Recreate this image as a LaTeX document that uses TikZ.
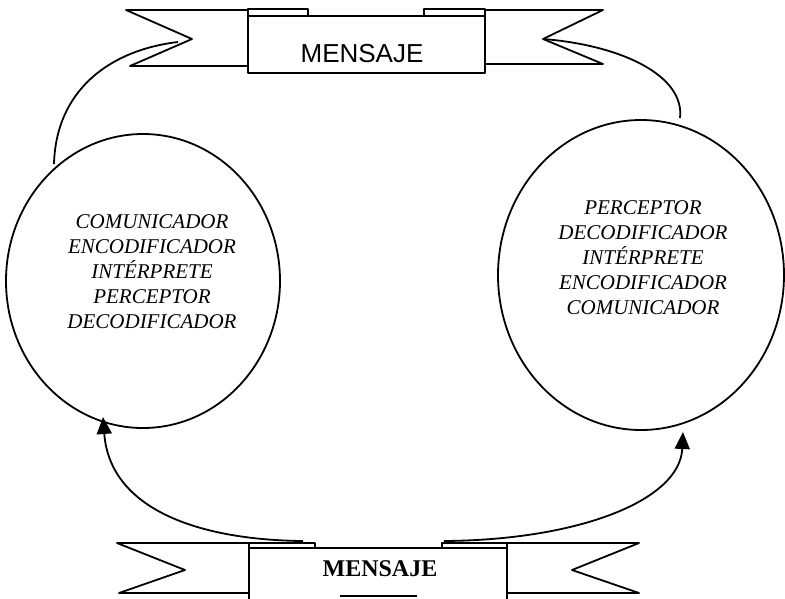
\documentclass[tikz,border=0pt]{standalone}
\usepackage{fontspec}
\setmainfont{Liberation Serif}
\newfontfamily\bannersans{Liberation Sans}
\usetikzlibrary{shapes.geometric,arrows.meta}
\tikzset{
  ln/.style={line width=1.8pt, line join=round},
  circ/.style={ellipse, draw, line width=1.8pt, inner sep=0pt},
  roles/.style={align=center, font=\fontsize{21}{25}\selectfont\itshape, inner sep=0pt},
  boxfill/.style={ln, fill=white},
  conn/.style={line width=1.8pt},
  arr/.style={line width=1.8pt, -{Triangle[length=17pt,width=15pt]}},
}
\begin{document}
\begin{tikzpicture}[x=1pt,y=-1pt]
\useasboundingbox (0,0) rectangle (785,598);
% circles
\node[circ, minimum width=274pt, minimum height=294pt] (lc) at (143,281) {};
\node[circ, minimum width=286pt, minimum height=310pt] (rc) at (641,275) {};
\node[roles] (lct) at (152,272) {COMUNICADOR\\ENCODIFICADOR\\INTÉRPRETE\\PERCEPTOR\\DECODIFICADOR};
\node[roles] (rct) at (643,258) {PERCEPTOR\\DECODIFICADOR\\INTÉRPRETE\\ENCODIFICADOR\\COMUNICADOR};
% top banner
\draw[ln, fill=white] (248,10) -- (126,10) -- (192,39) -- (130,66) -- (248,66);
\draw[ln, fill=white] (485,10) -- (603,10) -- (543,39) -- (603,64) -- (485,64);
\draw[ln, fill=white] (248,16) -- (248,9) -- (308,9) -- (308,16);
\draw[ln, fill=white] (424,16) -- (424,9) -- (485,9) -- (485,16);
\draw[boxfill] (248,16) rectangle (485,73);
\node[font=\bannersans\fontsize{26}{26}\selectfont, inner sep=0pt] (tm) at (362,54) {MENSAJE};
% bottom banner
\draw[ln, fill=white] (249,543) -- (117,543) -- (185,570) -- (119,593) -- (249,593);
\draw[ln, fill=white] (507,543) -- (639,543) -- (572,570) -- (639,593) -- (507,593);
\draw[ln, fill=white] (249,548) -- (249,543) -- (315,543) -- (315,548);
\draw[ln, fill=white] (442,548) -- (442,543) -- (507,543) -- (507,548);
\draw[boxfill] (249,600) -- (249,548) -- (507,548) -- (507,600);
\node[font=\fontsize{24}{24}\selectfont\bfseries, inner sep=0pt] (bm) at (380,569) {MENSAJE};
\coordinate (ula) at (340,596);
\coordinate (ulb) at (417,596);
\draw[ln] (ula) -- (ulb);
% connector endpoints
\coordinate (tl0) at (54,164);
\coordinate (tl1) at (178,42);
\coordinate (tr0) at (543,39);
\coordinate (tr1) at (680,118);
\coordinate (bl0) at (303,541);
\coordinate (bl1) at (103,417);
\coordinate (br0) at (444,541);
\coordinate (br1) at (683,432);
\draw[conn] (tl0) .. controls (56,90) and (110,50) .. (tl1);
\draw[conn] (tr0) .. controls (620,45) and (685,75) .. (tr1);
\draw[arr] (bl0) .. controls (200,540) and (110,510) .. (bl1);
\draw[arr] (br0) .. controls (580,540) and (680,500) .. (br1);
\end{tikzpicture}
\end{document}
